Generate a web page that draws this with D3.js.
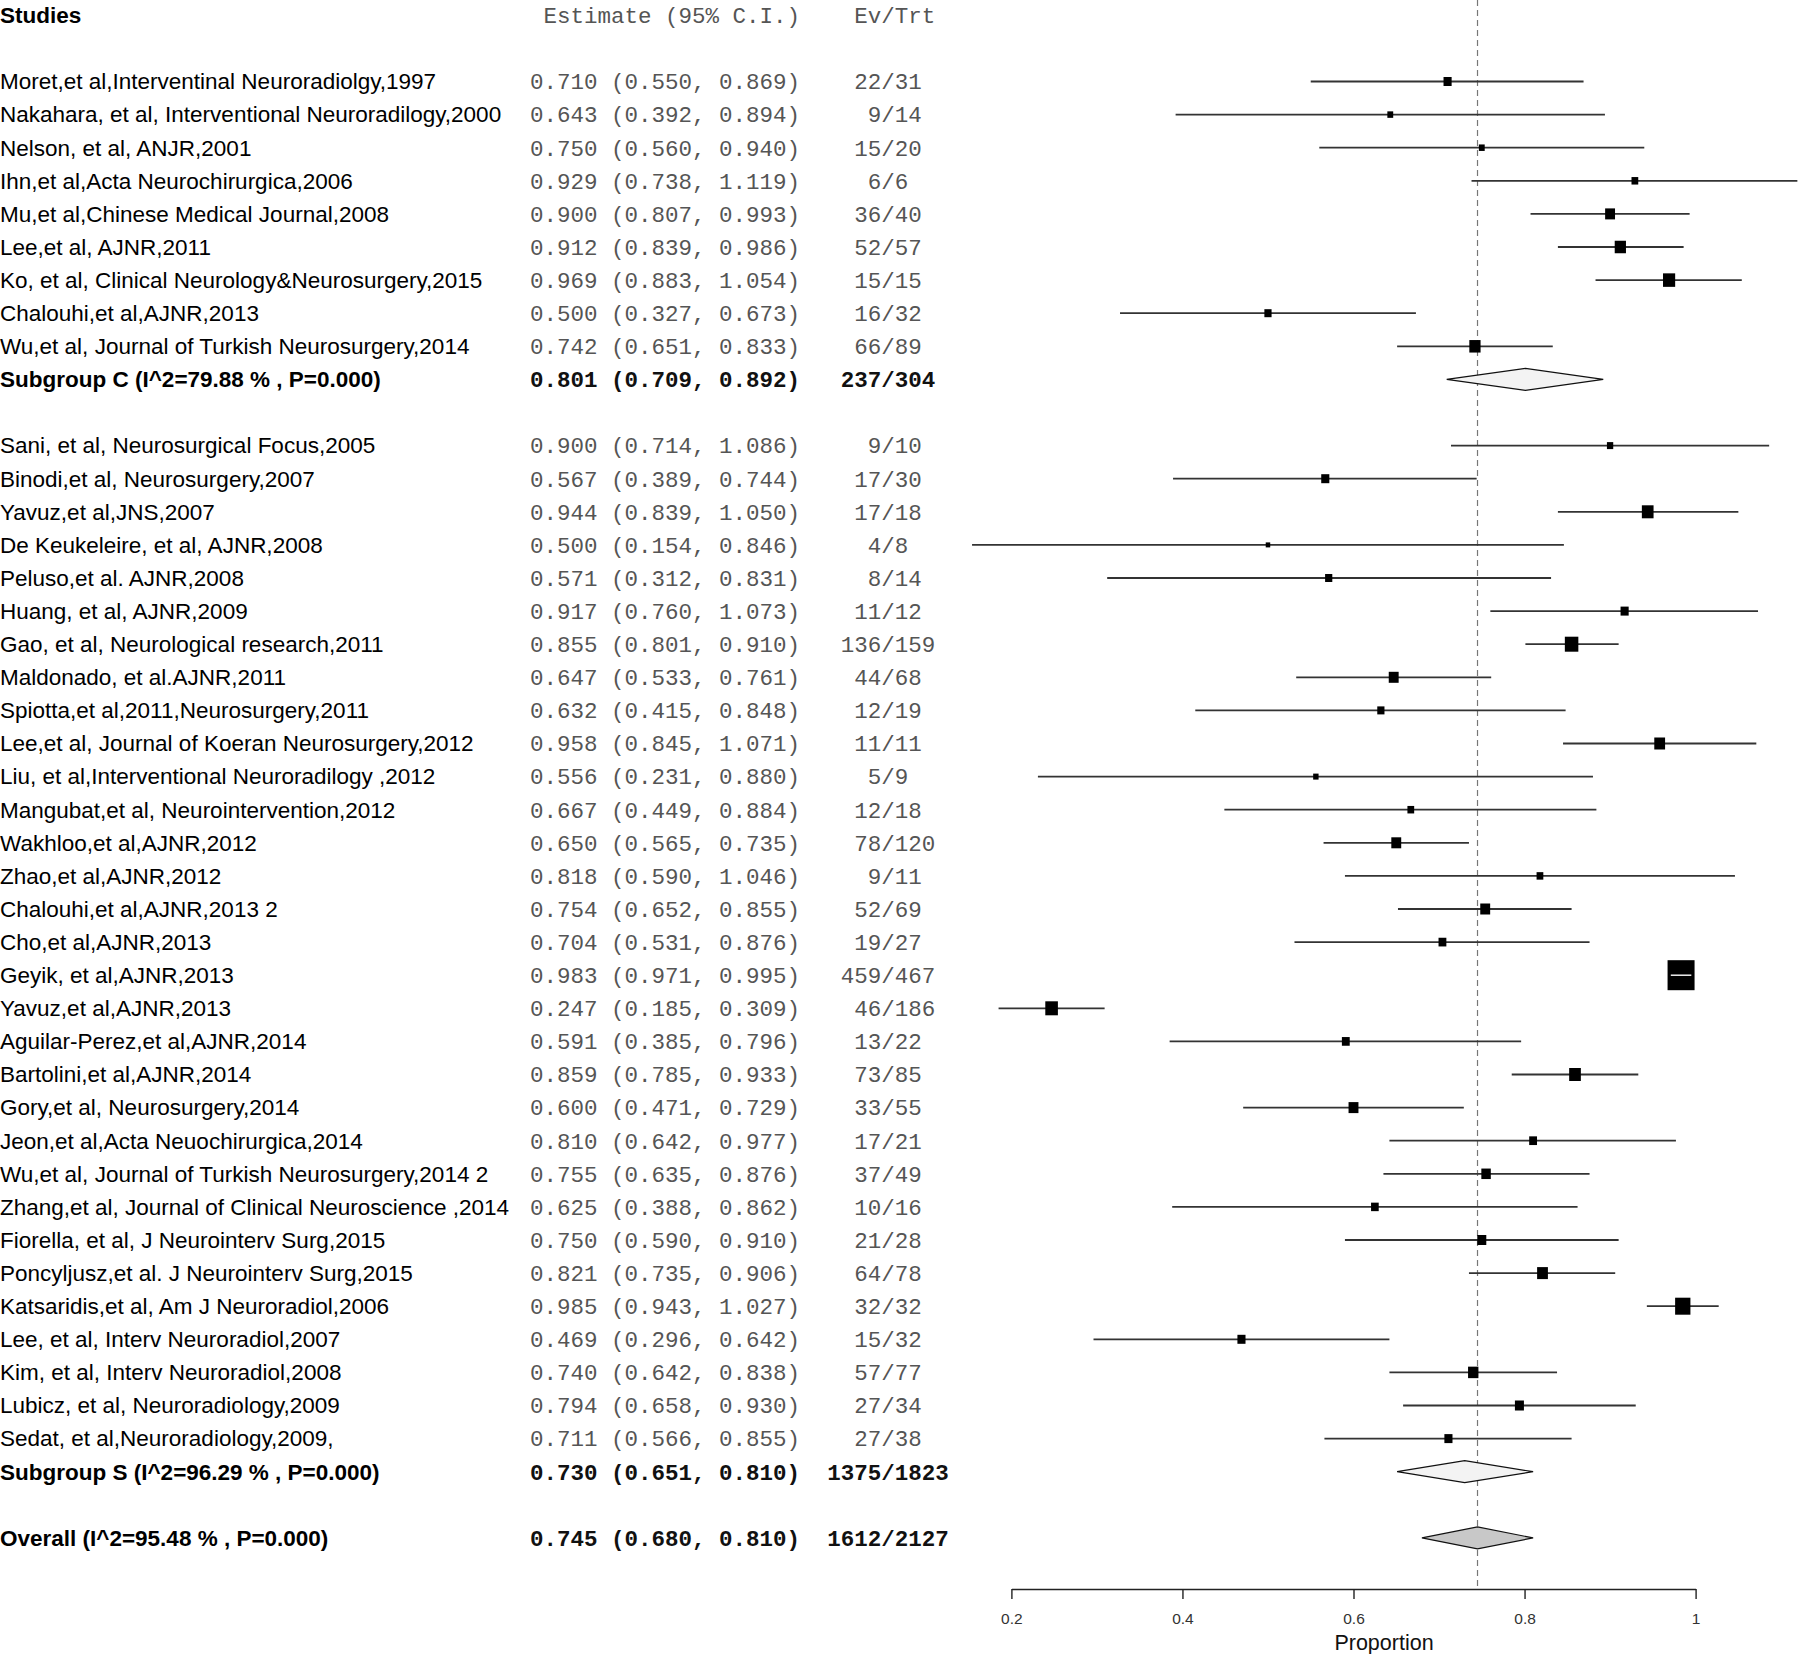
<!DOCTYPE html>
<html>
<head>
<meta charset="utf-8">
<script src="https://cdn.jsdelivr.net/npm/d3@7/dist/d3.min.js"></script>
<style>
  body { margin: 0; background: #fff; }
</style>
</head>
<body>
<div id="chart"></div>
<script>
// ---- data ----
var studiesC = [
  "Moret,et al,Interventinal Neuroradiolgy,1997",
  "Nakahara, et al, Interventional Neuroradilogy,2000",
  "Nelson, et al, ANJR,2001",
  "Ihn,et al,Acta Neurochirurgica,2006",
  "Mu,et al,Chinese Medical Journal,2008",
  "Lee,et al, AJNR,2011",
  "Ko, et al, Clinical Neurology&Neurosurgery,2015",
  "Chalouhi,et al,AJNR,2013",
  "Wu,et al, Journal of Turkish Neurosurgery,2014"
];
var estC = [0.710, 0.643, 0.750, 0.929, 0.900, 0.912, 0.969, 0.500, 0.742];
var lowC = [0.550, 0.392, 0.560, 0.738, 0.807, 0.839, 0.883, 0.327, 0.651];
var highC = [0.869, 0.894, 0.940, 1.119, 0.993, 0.986, 1.054, 0.673, 0.833];
var evC = [22, 9, 15, 6, 36, 52, 15, 16, 66];
var trtC = [31, 14, 20, 6, 40, 57, 15, 32, 89];
var wtC = [9, 6.5, 6.5, 7.5, 11, 12.5, 13.5, 8, 12.5];   // relative box weight as drawn

var studiesS = [
  "Sani, et al, Neurosurgical Focus,2005",
  "Binodi,et al, Neurosurgery,2007",
  "Yavuz,et al,JNS,2007",
  "De Keukeleire, et al, AJNR,2008",
  "Peluso,et al. AJNR,2008",
  "Huang, et al, AJNR,2009",
  "Gao, et al, Neurological research,2011",
  "Maldonado, et al.AJNR,2011",
  "Spiotta,et al,2011,Neurosurgery,2011",
  "Lee,et al, Journal of Koeran Neurosurgery,2012",
  "Liu, et al,Interventional Neuroradilogy ,2012",
  "Mangubat,et al, Neurointervention,2012",
  "Wakhloo,et al,AJNR,2012",
  "Zhao,et al,AJNR,2012",
  "Chalouhi,et al,AJNR,2013 2",
  "Cho,et al,AJNR,2013",
  "Geyik, et al,AJNR,2013",
  "Yavuz,et al,AJNR,2013",
  "Aguilar-Perez,et al,AJNR,2014",
  "Bartolini,et al,AJNR,2014",
  "Gory,et al, Neurosurgery,2014",
  "Jeon,et al,Acta Neuochirurgica,2014",
  "Wu,et al, Journal of Turkish Neurosurgery,2014 2",
  "Zhang,et al, Journal of Clinical Neuroscience ,2014",
  "Fiorella, et al, J Neurointerv Surg,2015",
  "Poncyljusz,et al. J Neurointerv Surg,2015",
  "Katsaridis,et al, Am J Neuroradiol,2006",
  "Lee, et al, Interv Neuroradiol,2007",
  "Kim, et al, Interv Neuroradiol,2008",
  "Lubicz, et al, Neuroradiology,2009",
  "Sedat, et al,Neuroradiology,2009,"
];
var estS = [0.900, 0.567, 0.944, 0.500, 0.571, 0.917, 0.855, 0.647, 0.632, 0.958, 0.556,
  0.667, 0.650, 0.818, 0.754, 0.704, 0.983, 0.247, 0.591, 0.859, 0.600, 0.810, 0.755,
  0.625, 0.750, 0.821, 0.985, 0.469, 0.740, 0.794, 0.711];
var lowS = [0.714, 0.389, 0.839, 0.154, 0.312, 0.760, 0.801, 0.533, 0.415, 0.845, 0.231,
  0.449, 0.565, 0.590, 0.652, 0.531, 0.971, 0.185, 0.385, 0.785, 0.471, 0.642, 0.635,
  0.388, 0.590, 0.735, 0.943, 0.296, 0.642, 0.658, 0.566];
var highS = [1.086, 0.744, 1.050, 0.846, 0.831, 1.073, 0.910, 0.761, 0.848, 1.071, 0.880,
  0.884, 0.735, 1.046, 0.855, 0.876, 0.995, 0.309, 0.796, 0.933, 0.729, 0.977, 0.876,
  0.862, 0.910, 0.906, 1.027, 0.642, 0.838, 0.930, 0.855];
var evS = [9, 17, 17, 4, 8, 11, 136, 44, 12, 11, 5, 12, 78, 9, 52, 19, 459, 46, 13, 73,
  33, 17, 37, 10, 21, 64, 32, 15, 57, 27, 27];
var trtS = [10, 30, 18, 8, 14, 12, 159, 68, 19, 11, 9, 18, 120, 11, 69, 27, 467, 186, 22,
  85, 55, 21, 49, 16, 28, 78, 32, 32, 77, 34, 38];
var wtS = [7, 9, 13, 5, 8, 9, 15, 11, 8, 12, 6, 7.5, 11, 7.5, 11, 8.7, 30, 14, 8.7, 13,
  11, 8.7, 10.5, 8.5, 10, 12, 17, 9, 11.5, 10, 9];

var summaryLabels = ["Subgroup C (I^2=79.88 % , P=0.000)", "Subgroup S (I^2=96.29 % , P=0.000)",
  "Overall (I^2=95.48 % , P=0.000)"];
var summaryEst = [0.801, 0.730, 0.745];
var summaryLow = [0.709, 0.651, 0.680];
var summaryHigh = [0.892, 0.810, 0.810];
var summaryEv = [237, 1375, 1612];
var summaryTrt = [304, 1823, 2127];

var headers = ["Studies", "Estimate (95% C.I.)", "Ev/Trt"];
var xTicks = [0.2, 0.4, 0.6, 0.8, 1];
var xLabel = "Proportion";

// ---- layout ----
var width = 1800, height = 1654;
var fs = 22.5;               // label font size
var charW = fs * 0.6;        // mono advance
var estX = 530, evX = 888;

// build rows: C studies, C summary, gap, S studies, S summary, gap, overall
var rows = [];
var r = 0;
studiesC.forEach(function(s, i) {
  rows.push({row: r++, name: s, est: estC[i], lo: lowC[i], hi: highC[i], ev: evC[i], trt: trtC[i], wt: wtC[i], type: "study"});
});
rows.push({row: r++, name: summaryLabels[0], est: summaryEst[0], lo: summaryLow[0], hi: summaryHigh[0], ev: summaryEv[0], trt: summaryTrt[0], type: "sub"});
r++;
studiesS.forEach(function(s, i) {
  rows.push({row: r++, name: s, est: estS[i], lo: lowS[i], hi: highS[i], ev: evS[i], trt: trtS[i], wt: wtS[i], type: "study"});
});
rows.push({row: r++, name: summaryLabels[1], est: summaryEst[1], lo: summaryLow[1], hi: summaryHigh[1], ev: summaryEv[1], trt: summaryTrt[1], type: "sub"});
r++;
rows.push({row: r++, name: summaryLabels[2], est: summaryEst[2], lo: summaryLow[2], hi: summaryHigh[2], ev: summaryEv[2], trt: summaryTrt[2], type: "overall"});

var y = d3.scaleLinear().domain([-2, 44]).range([15.3, 1537.9]);
var x = d3.scaleLinear().domain([0.2, 1]).range([1011.4, 1695.6]);
var boxH = d3.scaleLinear().domain([0, 30]).range([0, 30]);
var f3 = d3.format(".3f");

var svg = d3.select("#chart").append("svg")
  .attr("width", width).attr("height", height);

// headers
svg.append("text").attr("x", 0).attr("y", y(-2)).attr("dy", "0.35em")
  .attr("font-family", "Liberation Sans, Arial, sans-serif").attr("font-weight", "bold")
  .attr("font-size", fs).attr("fill", "#000").text(headers[0]);
svg.append("text").attr("x", estX + charW).attr("y", y(-2)).attr("dy", "0.35em")
  .attr("font-family", "Liberation Mono, monospace").attr("font-size", fs)
  .attr("fill", "#555").text(headers[1]);
svg.append("text").attr("x", evX + (headers[2].length % 2 ? 0 : charW / 2)).attr("y", y(-2)).attr("dy", "0.35em")
  .attr("text-anchor", "middle")
  .attr("font-family", "Liberation Mono, monospace").attr("font-size", fs)
  .attr("fill", "#555").text(headers[2]);

// left text columns
var txt = svg.append("g");
rows.forEach(function(d) {
  var bold = d.type !== "study";
  txt.append("text").attr("x", 0).attr("y", y(d.row)).attr("dy", "0.35em")
    .attr("font-family", "Liberation Sans, Arial, sans-serif")
    .attr("font-weight", bold ? "bold" : "normal")
    .attr("font-size", fs).attr("fill", "#000").text(d.name);
  txt.append("text").attr("x", estX).attr("y", y(d.row)).attr("dy", "0.35em")
    .attr("font-family", "Liberation Mono, monospace")
    .attr("font-weight", bold ? "bold" : "normal")
    .attr("font-size", fs).attr("fill", bold ? "#111" : "#555")
    .text(f3(d.est) + " (" + f3(d.lo) + ", " + f3(d.hi) + ")");
  var et = d.ev + "/" + d.trt;
  txt.append("text").attr("x", evX + (et.length % 2 ? 0 : charW / 2)).attr("y", y(d.row)).attr("dy", "0.35em")
    .attr("text-anchor", "middle")
    .attr("font-family", "Liberation Mono, monospace")
    .attr("font-weight", bold ? "bold" : "normal")
    .attr("font-size", fs).attr("fill", bold ? "#111" : "#555")
    .text(et);
});

// reference line at overall estimate
svg.append("line")
  .attr("x1", x(summaryEst[2])).attr("x2", x(summaryEst[2]))
  .attr("y1", 0).attr("y2", 1589)
  .attr("stroke", "#777").attr("stroke-width", 1.2).attr("stroke-dasharray", "6,4");

var studyRows = rows.filter(function(d) { return d.type === "study"; });
var plot = svg.append("g");

// confidence intervals
plot.selectAll(".ci").data(studyRows).enter().append("line")
  .attr("x1", function(d) { return x(d.lo); })
  .attr("x2", function(d) { return x(d.hi); })
  .attr("y1", function(d) { return y(d.row); })
  .attr("y2", function(d) { return y(d.row); })
  .attr("stroke", "#333").attr("stroke-width", 1.8);

// boxes
plot.selectAll(".box").data(studyRows).enter().append("rect")
  .attr("x", function(d) { return x(d.est) - boxH(d.wt) * 0.45; })
  .attr("y", function(d) { return y(d.row) - boxH(d.wt) / 2; })
  .attr("width", function(d) { return boxH(d.wt) * 0.9; })
  .attr("height", function(d) { return boxH(d.wt); })
  .attr("fill", "#000");

// CI fully inside its box: draw it in white
plot.selectAll(".inner").data(studyRows.filter(function(d) {
    return x(d.hi) - x(d.lo) < boxH(d.wt) * 0.9;
  })).enter().append("line")
  .attr("x1", function(d) { return x(d.lo); })
  .attr("x2", function(d) { return x(d.hi); })
  .attr("y1", function(d) { return y(d.row); })
  .attr("y2", function(d) { return y(d.row); })
  .attr("stroke", "#fff").attr("stroke-width", 1.4);

// diamonds
var sumRows = rows.filter(function(d) { return d.type !== "study"; });
plot.selectAll(".diamond").data(sumRows).enter().append("path")
  .attr("d", function(d) {
    var yc = y(d.row), h = 11;
    return "M" + x(d.lo) + "," + yc + "L" + x(d.est) + "," + (yc - h) +
      "L" + x(d.hi) + "," + yc + "L" + x(d.est) + "," + (yc + h) + "Z";
  })
  .attr("fill", function(d) { return d.type === "overall" ? "#c8c8c8" : "#f3f3f3"; })
  .attr("stroke", "#111").attr("stroke-width", 1.2);

// x axis
var axis = svg.append("g").attr("transform", "translate(0,1589)")
  .call(d3.axisBottom(x).tickValues(xTicks).tickFormat(d3.format("~g"))
    .tickSize(10).tickSizeOuter(0).tickPadding(14));
axis.select(".domain").attr("stroke", "#222").attr("stroke-width", 1.4);
axis.selectAll(".tick line").attr("stroke", "#222").attr("stroke-width", 1.4);
axis.selectAll(".tick text").attr("font-family", "Liberation Sans, Arial, sans-serif")
  .attr("font-size", 15.5).attr("fill", "#333");

svg.append("text").attr("x", 1384).attr("y", 1642).attr("dy", "0.35em")
  .attr("text-anchor", "middle")
  .attr("font-family", "Liberation Sans, Arial, sans-serif").attr("font-size", 21.5)
  .attr("fill", "#111").text(xLabel);
</script>
</body>
</html>
